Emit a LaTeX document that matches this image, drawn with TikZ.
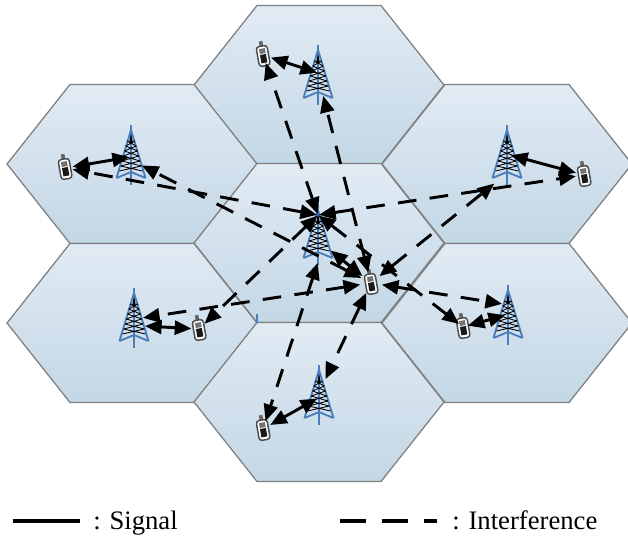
\documentclass[tikz,border=0pt]{standalone}
\usepackage{fontspec}
\setmainfont{Liberation Serif}
\usetikzlibrary{arrows.meta, positioning}
\def\tiplen{12.5pt}
\def\tipwid{10.5pt}

\tikzset{
  tower/.pic={
    \draw[towerblue, line width=1.4pt] (0,0) -- (0,60);
    \draw[towerblue, line width=1.4pt] (-14.5,53) -- (0,5) -- (14.5,53);
    \draw[towerblue, line width=1.4pt] (-14.5,53) -- (0,47) -- (14.5,53);
    \fill[black] (-2,18) -- (0,9) -- (2,18) -- cycle;
    \foreach \h in {16,21,...,41}
        \draw[black, line width=0.65pt] ({-\h*0.25},\h) -- ({(\h+5)*0.25},\h+5)
                                        ({\h*0.25},\h) -- ({-(\h+5)*0.25},\h+5);
  },
  handset/.pic={
    \fill[black!60] (-1.8,-14) rectangle (1.8,-8);
    \draw[black!70, fill=white, rounded corners=2.2pt, line width=1.1pt] (-5.5,-9) rectangle (5.5,11);
    \fill[black!55] (-3,-6.5) rectangle (3,-1.5);
    \fill[black!90] (-3,-0.5) rectangle (3,8);
  }
}

\begin{document}
\begin{tikzpicture}[x=0.75pt, y=-0.75pt]
    \definecolor{towerblue}{HTML}{4A7EBB}
    \definecolor{cellTop}{HTML}{E1EBF4}
    \definecolor{cellBot}{HTML}{C3D7E5}
    \tikzstyle{cell}=[draw=black!50, line width=0.95pt, top color=cellTop, bottom color=cellBot]
    \tikzstyle{phone}=[circle, inner sep=0pt]
    \tikzstyle{anchor dot}=[circle, minimum size=1pt, inner sep=0pt]
    \tikzstyle{signal}=[{Triangle[length=\tiplen,width=\tipwid]}-{Triangle[length=\tiplen,width=\tipwid]}, line width=2.2pt]
    \tikzstyle{interference}=[signal, dash pattern=on 14pt off 10pt]
    \tikzstyle{legend}=[inner sep=0pt, anchor=base west, font=\fontsize{20}{24}\selectfont]
    \useasboundingbox (0,0) rectangle (628,538);

    % Draw the cells
    \foreach \x / \y in {319/85,132/164,507/164,319/243,132/323,507/323,319/402}
        \draw[cell] ({\x-125},\y) -- ({\x-62},{\y-79.5}) -- ({\x+62},{\y-79.5})
            -- ({\x+125},\y) -- ({\x+62},{\y+79.5}) -- ({\x-62},{\y+79.5}) -- cycle;
    \draw[towerblue, line width=0.8pt] (257,314) -- (257,323);

    % Draw the towers, the apex is the given point
    \foreach \x / \y in {318/45,131/125,507/125,318/205,134/288,508/285,319/365}
        \pic at (\x,\y) {tower};

    % Draw the handsets
    \foreach \name / \x / \y / \s in {n/263/55/12,w/65/168/11,e/584/175/12,m/371/283/16,a/199/329/11,b/463/327/7,s/263/429/12}
    {
        \node[phone, minimum size=\s pt] (P-\name) at (\x,\y) {};
        \pic[rotate=10] at (\x,\y) {handset};
    }

    % Ends of the signal arrows on the towers
    \foreach \name / \x / \y in {n/318/73,w/130/157,e/510/155,m/330/250,a/144/326,b/506/315,s/318/398}
        \node[anchor dot] (S-\name) at (\x,\y) {};

    % Ends of the interference arrows on the towers
    \foreach \name / \x / \y in {n/323/95,w/141/165,e/495/183,a/142/318,b/503/304,s/325/380,m/318/215,c/318/262}
        \node[anchor dot] (I-\name) at (\x,\y) {};

    % Connect every handset with its own tower
    \foreach \name in {n,w,e,m,a,b,s}
        \draw[signal] (P-\name) -- (S-\name);

    % Connect the middle handset with the outer towers
    \foreach \name in {n,w,e,a,b,s}
        \draw[interference] (P-m) -- (I-\name);

    % Connect the middle tower with the outer handsets
    \foreach \name in {n,w,e,a,b}
        \draw[interference] (I-m) -- (P-\name);
    \draw[interference] (I-c) -- (P-s);

    % Legend
    \coordinate (sig-a) at (13,521);
    \coordinate (sig-b) at (80,521);
    \coordinate (int-a) at (340,521);
    \coordinate (int-b) at (437,521);
    \draw[line width=2.4pt] (sig-a) -- (sig-b);
    \draw[line width=2.4pt, dash pattern=on 19.5pt off 12pt] (int-a) -- (int-b);
    \node[legend] (sig-text) at (93,529) {: Signal};
    \node[legend] (int-text) at (452,529) {: Interference};
\end{tikzpicture}
\end{document}
